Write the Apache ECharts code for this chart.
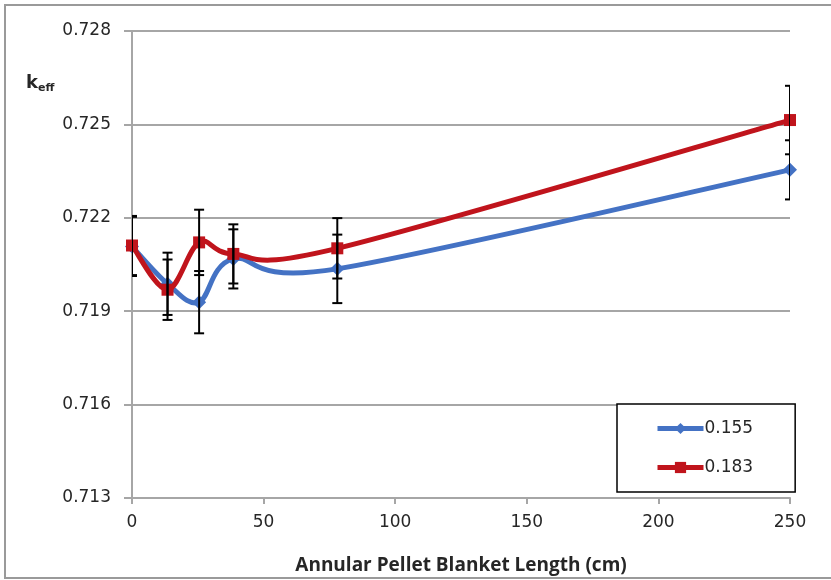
<!DOCTYPE html>
<html>
<head>
<meta charset="utf-8">
<script src="https://cdn.jsdelivr.net/npm/echarts@6/dist/echarts.min.js"></script>
<style>
  html, body { margin: 0; padding: 0; background: #fff; }
  #chart { width: 831px; height: 580px; }
</style>
</head>
<body>
<div id="chart"></div>
<script>
// Blanket length (cm) and k-eff results for the two pellet configurations
const blanketLength = [0, 13.5, 25.5, 38.5, 78, 250];
const keff155 = [0.72108, 0.71988, 0.71929, 0.72068, 0.72036, 0.72354];
const err155  = [0.00095, 0.00100, 0.00100, 0.00095, 0.00110, 0.00095];
const keff183 = [0.72111, 0.71969, 0.72121, 0.72084, 0.72102, 0.72514];
const err183  = [0.00095, 0.00097, 0.00105, 0.00095, 0.00097, 0.00110];
const seriesNames = ['0.155', '0.183'];
const xTicks = [0, 50, 100, 150, 200, 250];
const yTicks = [0.713, 0.716, 0.719, 0.722, 0.725, 0.728];

const BLUE = '#4472C4';
const RED = '#C0141C';
const GRID_GRAY = '#A6A6A6';
const TEXT = '#262626';
const FONT = 'DejaVu Sans';
const LINE_W = 5;

function pairs(xs, ys) {
  return xs.map((x, i) => [x, ys[i]]);
}
function errRows(xs, ys, es) {
  return xs.map((x, i) => [x, ys[i] - es[i], ys[i] + es[i]]);
}

// Smoothed connecting curve: one cubic Bezier per segment, with
// Catmull-Rom style control points computed in pixel space.
function curveRenderer(color) {
  return function (params, api) {
    const i = params.dataIndexInside;
    const n = params.dataInsideLength;
    if (i >= n - 1) return null;
    const pt = j => {
      const k = Math.max(0, Math.min(n - 1, j));
      return api.coord([api.value(0, k), api.value(1, k)]);
    };
    const p0 = pt(i - 1), p1 = pt(i), p2 = pt(i + 1), p3 = pt(i + 2);
    const t = 1 / 6;
    return {
      type: 'bezierCurve',
      shape: {
        x1: p1[0], y1: p1[1], x2: p2[0], y2: p2[1],
        cpx1: p1[0] + (p2[0] - p0[0]) * t, cpy1: p1[1] + (p2[1] - p0[1]) * t,
        cpx2: p2[0] - (p3[0] - p1[0]) * t, cpy2: p2[1] - (p3[1] - p1[1]) * t
      },
      style: { stroke: color, lineWidth: LINE_W, fill: null, lineCap: 'round' }
    };
  };
}

// Vertical error bar with caps, drawn in data coordinates
function renderErrorBar(params, api) {
  const x = api.value(0);
  const lo = api.coord([x, api.value(1)]);
  const hi = api.coord([x, api.value(2)]);
  const half = 5;
  const style = { stroke: '#000', lineWidth: 2 };
  return {
    type: 'group',
    children: [
      { type: 'line', shape: { x1: lo[0], y1: lo[1], x2: hi[0], y2: hi[1] }, style },
      { type: 'line', shape: { x1: lo[0] - half, y1: lo[1], x2: lo[0] + half, y2: lo[1] }, style },
      { type: 'line', shape: { x1: hi[0] - half, y1: hi[1], x2: hi[0] + half, y2: hi[1] }, style }
    ]
  };
}

const chart = echarts.init(document.getElementById('chart'), null, { renderer: 'canvas' });

chart.setOption({
  animation: false,
  backgroundColor: '#fff',
  textStyle: { fontFamily: FONT, color: TEXT },
  grid: { left: 132, right: 41, top: 31, bottom: 81, containLabel: false },
  graphic: [
    {
      type: 'rect',
      shape: { x: 5, y: 5, width: 900, height: 573 },
      style: { fill: 'none', stroke: '#9a9a9a', lineWidth: 2 },
      silent: true, z: -10
    },
    {
      type: 'text',
      left: 26, top: 74,
      style: {
        text: '{k|k}{s|eff}',
        rich: {
          k: { fontFamily: FONT, fontWeight: 'bold', fontSize: 18, fill: TEXT },
          s: { fontFamily: FONT, fontWeight: 'bold', fontSize: 11, fill: TEXT, padding: [10, 0, 0, 0] }
        }
      }
    }
  ],
  legend: {
    orient: 'vertical',
    left: 617, top: 404,
    width: 178,
    padding: [16, 42, 16, 38],
    itemGap: 22,
    itemWidth: 46,
    itemHeight: 14,
    borderColor: '#000',
    borderWidth: 1.5,
    backgroundColor: '#fff',
    lineStyle: { width: LINE_W },
    textStyle: { fontFamily: FONT, fontSize: 17, color: TEXT, padding: [0, 0, 0, -4] },
    data: seriesNames
  },
  xAxis: {
    type: 'value',
    min: xTicks[0], max: xTicks[xTicks.length - 1], interval: 50,
    name: 'Annular Pellet Blanket Length (cm)',
    nameLocation: 'middle',
    nameGap: 58,
    nameTextStyle: { fontFamily: 'Open Sans', fontWeight: 'bold', fontSize: 19, color: TEXT },
    axisLine: { show: true, lineStyle: { color: GRID_GRAY, width: 2 } },
    axisTick: { show: true, length: 6, lineStyle: { color: GRID_GRAY, width: 2 } },
    axisLabel: { fontFamily: FONT, fontSize: 17, color: TEXT, margin: 16 },
    splitLine: { show: false }
  },
  yAxis: {
    type: 'value',
    min: yTicks[0], max: yTicks[yTicks.length - 1],
    axisLine: { show: true, lineStyle: { color: GRID_GRAY, width: 2 } },
    axisTick: { show: true, length: 8, customValues: yTicks, lineStyle: { color: GRID_GRAY, width: 2 } },
    axisLabel: {
      fontFamily: FONT, fontSize: 17, color: TEXT, margin: 21,
      customValues: yTicks,
      formatter: v => v.toFixed(3)
    },
    splitLine: { show: true, lineStyle: { color: GRID_GRAY, width: 2 } }
  },
  series: [
    {
      type: 'custom',
      renderItem: curveRenderer(BLUE),
      data: pairs(blanketLength, keff155),
      encode: { x: 0, y: 1 },
      clip: false,
      silent: true,
      z: 2
    },
    {
      name: seriesNames[0],
      type: 'line',
      data: pairs(blanketLength, keff155),
      symbol: 'diamond',
      symbolSize: 14,
      showSymbol: true,
      color: BLUE,
      lineStyle: { width: 0, color: BLUE },
      itemStyle: { color: BLUE },
      z: 2
    },
    {
      type: 'custom',
      renderItem: curveRenderer(RED),
      data: pairs(blanketLength, keff183),
      encode: { x: 0, y: 1 },
      clip: false,
      silent: true,
      z: 3
    },
    {
      name: seriesNames[1],
      type: 'line',
      data: pairs(blanketLength, keff183),
      symbol: 'rect',
      symbolSize: 12,
      showSymbol: true,
      color: RED,
      lineStyle: { width: 0, color: RED },
      itemStyle: { color: RED },
      z: 3
    },
    {
      type: 'custom',
      renderItem: renderErrorBar,
      data: errRows(blanketLength, keff155, err155),
      clip: true,
      encode: { x: 0, y: [1, 2] },
      z: 5
    },
    {
      type: 'custom',
      renderItem: renderErrorBar,
      data: errRows(blanketLength, keff183, err183),
      clip: true,
      encode: { x: 0, y: [1, 2] },
      z: 5
    }
  ]
});
</script>
</body>
</html>
